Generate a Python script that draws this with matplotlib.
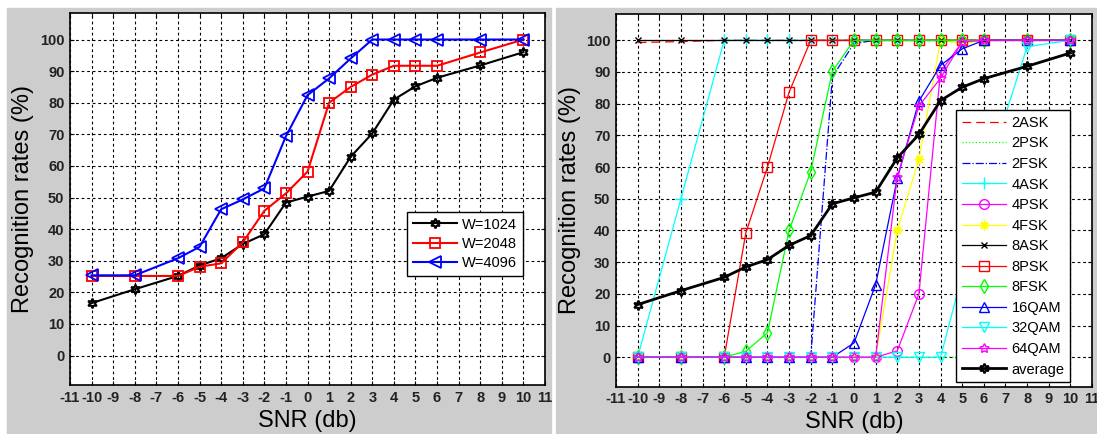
import matplotlib
matplotlib.use("Agg")
import matplotlib.pyplot as plt
from matplotlib.patches import Rectangle

plt.rcParams["font.family"] = ["Liberation Sans", "DejaVu Sans"]
plt.rcParams["axes.unicode_minus"] = False

# SNR points (db)
snr = [-10, -8, -6, -5, -4, -3, -2, -1, 0, 1, 2, 3, 4, 5, 6, 8, 10]

# left panel: average recognition rate vs. window length
w1024 = [16.6, 21, 25.2, 28.5, 30.8, 35.3, 38.4, 48.4, 50.3, 52.1, 62.9, 70.3, 81, 85.2, 87.9, 91.8, 96]
w2048 = [25.2, 25.2, 25.2, 28.1, 29.2, 35.8, 45.8, 51.3, 58.2, 80, 85, 88.9, 91.7, 91.7, 91.7, 95.9, 100]
w4096 = [25.4, 25.4, 30.8, 34.4, 46.3, 49.4, 52.9, 69.4, 82.4, 87.7, 94, 100, 100, 100, 100, 100, 100]

# right panel: per-modulation rates
ask2 = [99.3, 99.6, 100, 100, 100, 100, 100, 100, 100, 100, 100, 100, 100, 100, 100, 100, 100]
psk2 = [0, 0, 0, 0, 0, 0, 0, 0, 0, 0, 0, 0, 0, 0, 0, 0, 47]
fsk2 = [0, 0, 0, 0, 0, 0, 0, 88.5, 99, 100, 100, 100, 100, 100, 100, 100, 100]
ask4 = [0, 50, 100, 100, 100, 100, 100, 100, 100, 100, 100, 100, 100, 100, 100, 100, 100]
psk4 = [0, 0, 0, 0, 0, 0, 0, 0, 0, 0, 2, 20, 90, 99.5, 100, 100, 100]
fsk4 = [0, 0, 0, 0, 0, 0, 0, 0, 0, 0, 40, 62.5, 100, 99, 100, 100, 100]
ask8 = [100] * 17
psk8 = [0, 0, 0, 39.2, 60, 83.6, 100, 100, 100, 100, 100, 100, 100, 100, 100, 100, 100]
fsk8 = [0, 0, 0, 1.9, 7.7, 40, 58.6, 90.2, 100, 100, 100, 100, 100, 100, 100, 100, 100]
qam16 = [0, 0, 0, 0, 0, 0, 0, 0, 4.5, 22.9, 56.4, 80.8, 92.1, 97.3, 100, 100, 100]
qam32 = [0, 0, 0, 0, 0, 0, 0, 0, 0, 0, 0, 0, 0, 26, 55, 98, 100]
qam64 = [0, 0, 0, 0, 0, 0, 0, 0, 0, 0, 57, 79.2, 88.1, 99.5, 100, 100, 100]
average = w1024

xticks = list(range(-11, 12))
yticks = list(range(0, 101, 10))

HEXAGRAM = (6, 1, 0)
PENTAGRAM = (5, 1, 0)
ASTERISK = (8, 2, 0)

fig = plt.figure(figsize=(10.97, 4.34), dpi=100)
fig.patch.set_facecolor("white")
# grey figure backgrounds of the two MATLAB windows
fig.patches.append(Rectangle((7 / 1097, 0), 544 / 1097, 1 - 8 / 434,
                             transform=fig.transFigure, color="#cdcdcd", zorder=-10))
fig.patches.append(Rectangle((556 / 1097, 0), 541 / 1097, 1 - 8 / 434,
                             transform=fig.transFigure, color="#cdcdcd", zorder=-10))

ax1 = fig.add_axes([70 / 1097, 49 / 434, 475 / 1097, 371.7 / 434])
ax2 = fig.add_axes([616 / 1097, 47.3 / 434, 476 / 1097, 372.7 / 434])


def style_axes(ax, ylab_x, xlab_y):
    ax.set_xlim(-11, 11)
    ax.set_ylim(-9.3, 108.3)
    ax.set_xticks(xticks)
    ax.set_yticks(yticks)
    ax.tick_params(direction="in", top=True, right=True, length=3, width=0.8,
                   labelsize=10.5, pad=4, labelcolor="#222222")
    for lab in ax.get_xticklabels() + ax.get_yticklabels():
        lab.set_fontweight("bold")
    ax.grid(True, color="black", linestyle=(0, (2.5, 2.5)), linewidth=0.8)
    ax.set_axisbelow(True)
    for s in ax.spines.values():
        s.set_linewidth(1.2)
    ax.set_xlabel("SNR (db)", fontsize=17, va="center")
    ax.set_ylabel("Recognition rates (%)", fontsize=17, va="center")
    ax.xaxis.set_label_coords(0.5, xlab_y)
    ax.yaxis.set_label_coords(ylab_x, 0.5)


# ---- left: window length comparison ----
ax1.plot(snr, w1024, color="black", lw=1.5, marker=HEXAGRAM, ms=7, mfc="none",
         mew=1.5, label="W=1024")
ax1.plot(snr, w2048, color="red", lw=1.5, marker="s", ms=7, mfc="none",
         mew=1.3, label="W=2048")
ax1.plot(snr, w4096, color="blue", lw=1.5, marker="<", ms=8, mfc="none",
         mew=1.3, label="W=4096")
style_axes(ax1, -0.0996, -0.098)
leg1 = ax1.legend(loc="upper left", bbox_to_anchor=(407 / 1097, 1 - 211.7 / 434),
                  bbox_transform=fig.transFigure, fontsize=10.5, frameon=True,
                  fancybox=False, edgecolor="black", framealpha=1,
                  handlelength=3.0, labelspacing=0.35, borderpad=0.4,
                  handletextpad=0.4, borderaxespad=0)
leg1.get_frame().set_linewidth(1.0)

# ---- right: each modulation type ----
thin = 0.9
ax2.plot(snr, ask2, color="red", lw=thin, linestyle=(0, (7, 4)), label="2ASK")
ax2.plot(snr, psk2, color="#00ff00", lw=thin, linestyle=":", label="2PSK")
ax2.plot(snr, fsk2, color="blue", lw=thin, linestyle="-.", label="2FSK")
ax2.plot(snr, ask4, color="cyan", lw=thin, marker="+", ms=8, label="4ASK")
ax2.plot(snr, psk4, color="magenta", lw=thin, marker="o", ms=7, mfc="none", label="4PSK")
ax2.plot(snr, fsk4, color="yellow", lw=thin, marker=ASTERISK, ms=7, label="4FSK")
ax2.plot(snr, ask8, color="black", lw=thin, marker="x", ms=4, label="8ASK")
ax2.plot(snr, psk8, color="red", lw=thin, marker="s", ms=7, mfc="none", label="8PSK")
ax2.plot(snr, fsk8, color="#00ff00", lw=thin, marker="d", ms=7, mfc="none", label="8FSK")
ax2.plot(snr, qam16, color="blue", lw=thin, marker="^", ms=7, mfc="none", label="16QAM")
ax2.plot(snr, qam32, color="cyan", lw=thin, marker="v", ms=7, mfc="none", label="32QAM")
ax2.plot(snr, qam64, color="magenta", lw=thin, marker=PENTAGRAM, ms=7, mfc="none", label="64QAM")
ax2.plot(snr, average, color="black", lw=2, marker=HEXAGRAM, ms=7, mfc="none",
         mew=1.5, label="average")
style_axes(ax2, -0.0966, -0.094)
leg2 = ax2.legend(loc="upper left", bbox_to_anchor=(956 / 1097, 1 - 110 / 434),
                  bbox_transform=fig.transFigure, fontsize=10.5, frameon=True,
                  fancybox=False, edgecolor="black", framealpha=1,
                  handlelength=3.0, labelspacing=0.45, borderpad=0.4,
                  handletextpad=0.4, borderaxespad=0)
leg2.get_frame().set_linewidth(1.0)

fig.savefig("out.png", dpi=100)
